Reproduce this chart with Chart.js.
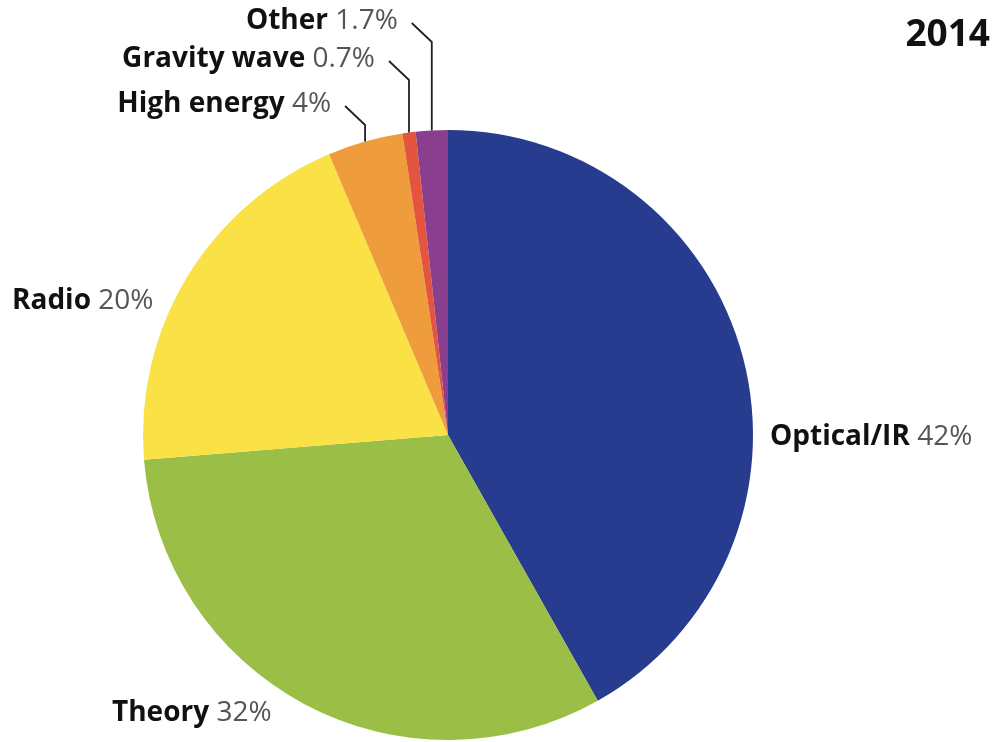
<!DOCTYPE html>
<html>
<head>
<meta charset="utf-8">
<script src="https://cdn.jsdelivr.net/npm/chart.js@4"></script>
<style>
    body { margin: 0; background: #fff; }
    #wrap { width: 998px; height: 742px; position: relative; }
</style>
</head>
<body>
<div id="wrap"><canvas id="myChart"></canvas></div>
<script>

    const categories = ['Optical/IR', 'Theory', 'Radio', 'High energy', 'Gravity wave', 'Other'];
    const shares = [42, 32, 20, 4, 0.7, 1.7];
    const shareText = ['42%', '32%', '20%', '4%', '0.7%', '1.7%'];
    const colors = ['#273c8f', '#9bbf46', '#f9e146', '#ef9c3c', '#e3553f', '#8a3f8e'];
    const year = '2014';

    const FONT = '"Open Sans", sans-serif';
    const SIZE = 28;

    // label spots: plain labels sit at [x, y]; small slices get a leader with an elbow y
    const plainLabels = {0: [770, 437], 1: [112, 713], 2: [12, 301]};
    const leaderElbow = {3: 125, 4: 80, 5: 42};

    function drawLabel(ctx, i, x, y, alignRight) {
        ctx.textBaseline = 'middle';
        ctx.textAlign = 'left';
        ctx.font = 'bold ' + SIZE + 'px ' + FONT;
        const nameW = ctx.measureText(categories[i] + ' ').width;
        ctx.font = SIZE + 'px ' + FONT;
        const pctW = ctx.measureText(shareText[i]).width;
        let left = alignRight ? x - nameW - pctW : x;
        ctx.font = 'bold ' + SIZE + 'px ' + FONT;
        ctx.fillStyle = '#111';
        ctx.fillText(categories[i], left, y);
        ctx.font = SIZE + 'px ' + FONT;
        ctx.fillStyle = '#555';
        ctx.fillText(shareText[i], left + nameW, y);
    }

    const labelPlugin = {
        id: 'labels',
        afterDraw(chart) {
            const ctx = chart.ctx;
            const arcs = chart.getDatasetMeta(0).data;
            ctx.save();
            for (const k in plainLabels) {
                drawLabel(ctx, +k, plainLabels[k][0], plainLabels[k][1], false);
            }
            for (const k in leaderElbow) {
                const a = arcs[k];
                const mid = (a.startAngle + a.endAngle) / 2;
                const ex = a.x + Math.cos(mid) * a.outerRadius;
                const ey = a.y + Math.sin(mid) * a.outerRadius;
                const elbowY = leaderElbow[k];
                const sx = ex - 20, sy = elbowY - 19;
                ctx.strokeStyle = '#222';
                ctx.lineWidth = 1.8;
                ctx.beginPath();
                ctx.moveTo(sx, sy);
                ctx.lineTo(ex, elbowY);
                ctx.lineTo(ex, ey);
                ctx.stroke();
                drawLabel(ctx, +k, sx - 14, sy - 2, true);
            }
            ctx.font = 'bold 37px ' + FONT;
            ctx.fillStyle = '#111';
            ctx.textAlign = 'right';
            ctx.textBaseline = 'middle';
            ctx.fillText(year, 990, 35);
            ctx.restore();
        }
    };

    const config = {
        type: 'pie',
        data: {
            labels: categories,
            datasets: [{
                data: shares,
                backgroundColor: colors,
                borderWidth: 0
            }]
        },
        options: {
            responsive: true,
            maintainAspectRatio: false,
            animation: false,
            layout: {
                padding: {left: 143, right: 245, top: 130, bottom: 2}
            },
            plugins: {
                legend: { display: false },
                tooltip: { enabled: false }
            }
        },
        plugins: [labelPlugin]
    };

    const ctx = document.getElementById('myChart');

    new Chart(ctx, config);
</script>
</body>
</html>
